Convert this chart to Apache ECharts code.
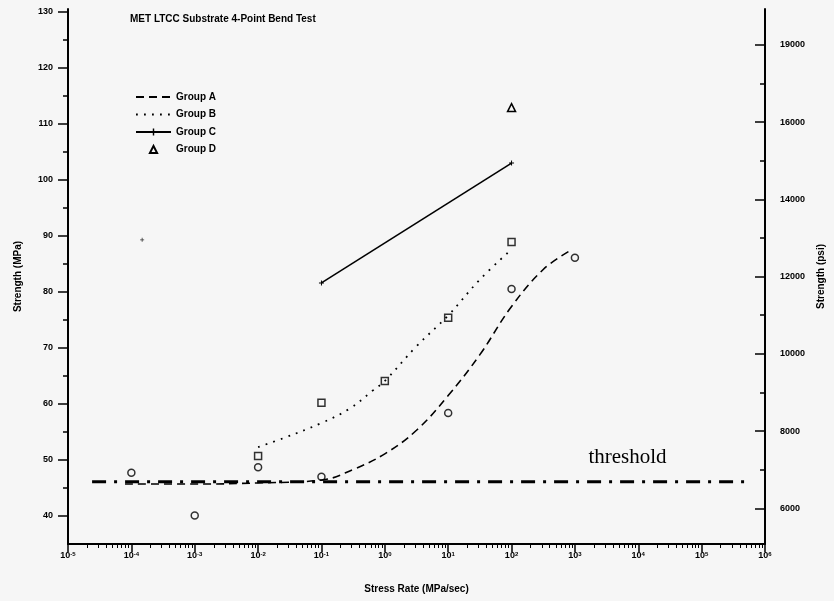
<!DOCTYPE html>
<html>
<head>
<meta charset="utf-8">
<script src="https://cdn.jsdelivr.net/npm/echarts@6/dist/echarts.min.js"></script>
<style>
  * { margin: 0; padding: 0; }
  html, body { background: #f6f6f6; }
  #main { width: 834px; height: 601px; }
</style>
</head>
<body>
<div id="main"></div>
<script>
// stress rate is kept as decade exponent: rate = 10^exp (MPa/sec)
var groupAExp = [-4, -3, -2, -1, 1, 2, 3];
var groupAVal = [47.7, 40.1, 48.7, 47.0, 58.4, 80.5, 86.1];
var groupBExp = [-2, -1, 0, 1, 2];
var groupBVal = [50.7, 60.2, 64.1, 75.4, 88.9];
var groupCExp = [-1, 2];
var groupCVal = [81.6, 103.0];
var strayCExp = [-3.83];
var strayCVal = [89.3];
var groupDExp = [2];
var groupDVal = [112.9];

// fitted curves
var fitAExp = [-4.1, -3, -2, -1, -0.5, 0, 0.5, 1, 1.5, 2, 2.5, 2.9];
var fitAVal = [45.7, 45.7, 45.9, 46.4, 48.3, 51.1, 55.3, 61.5, 68.8, 77.4, 84.0, 87.2];
var fitBExp = [-2, -1.6, -1, -0.55, -0.2, 0, 0.5, 1, 1.5, 2];
var fitBVal = [52.3, 53.9, 56.6, 59.2, 62.3, 64.1, 70.3, 75.8, 82.2, 87.6];
var thresholdExp = [-4.62, 5.72];
var thresholdVal = [46.1, 46.1];

// axis ticks
var xExponents = [-5, -4, -3, -2, -1, 0, 1, 2, 3, 4, 5, 6];
var xMinorMult = [2, 3, 4, 5, 6, 7, 8, 9];
var yTicks = [40, 50, 60, 70, 80, 90, 100, 110, 120, 130];
var yMinorTicks = [45, 55, 65, 75, 85, 95, 105, 115, 125];
var psiTicks = [6000, 8000, 10000, 12000, 14000, 16000, 18000];
var psiLabels = ['6000', '8000', '10000', '12000', '14000', '16000', '19000'];
var psiMinorTicks = [7000, 9000, 11000, 13000, 15000, 17000];

var MPA_TO_PSI = 145.038;
var Y_MIN = 35, Y_MAX = 130.5;

function pts(exps, vals) {
  return exps.map(function (e, i) { return [Math.pow(10, e), vals[i]]; });
}

var xMinorPos = [];
xExponents.slice(0, -1).forEach(function (d) {
  xMinorMult.forEach(function (k) { xMinorPos.push(d + Math.log10(k)); });
});

var ink = '#000';
var bg = '#f6f6f6';
var fontFam = "'Liberation Sans', Arial, sans-serif";
var plusPath = 'path://M2,0h1v2h2v1h-2v2h-1v-2h-2v-1h2z';
var noMark = { color: 'rgba(0,0,0,0)', borderWidth: 0 };

var chart = echarts.init(document.getElementById('main'));
chart.setOption({
  animation: false,
  backgroundColor: bg,
  title: {
    text: 'MET LTCC Substrate 4-Point Bend Test',
    left: 125, top: 9,
    textStyle: { fontFamily: fontFam, fontSize: 10, fontWeight: 'bold', color: ink }
  },
  legend: {
    data: [
      { name: 'Group A', itemStyle: noMark },
      { name: 'Group B', itemStyle: noMark },
      { name: 'Group C' },
      { name: 'Group D' }
    ],
    orient: 'vertical',
    left: 130, top: 87,
    itemWidth: 35, itemHeight: 9, itemGap: 7.5,
    textStyle: { fontFamily: fontFam, fontSize: 10, fontWeight: 'bold', color: ink }
  },
  grid: { left: 68, right: 69, top: 9, bottom: 57, outerBoundsMode: 'none' },
  xAxis: [
    { type: 'log', logBase: 10, min: 1e-5, max: 1e6, position: 'bottom', show: false },
    {
      type: 'value', min: -5, max: 6, interval: 1, position: 'bottom',
      name: 'Stress Rate (MPa/sec)', nameLocation: 'middle', nameGap: 40,
      nameTextStyle: { fontFamily: fontFam, fontSize: 10, fontWeight: 'bold', color: ink },
      splitLine: { show: false },
      axisLine: { onZero: false, lineStyle: { color: ink, width: 2 } },
      axisTick: { length: 8, lineStyle: { color: ink, width: 1.5 } },
      axisLabel: {
        margin: 7, color: ink,
        formatter: function (v) { return '{b|10}{s|' + v + '}'; },
        rich: {
          b: { fontFamily: fontFam, fontSize: 9, fontWeight: 'bold', color: ink },
          s: { fontFamily: fontFam, fontSize: 6, fontWeight: 'bold', color: ink, verticalAlign: 'top' }
        }
      }
    },
    {
      type: 'value', min: -5, max: 6, position: 'bottom',
      splitLine: { show: false },
      axisLine: { show: false, onZero: false },
      axisLabel: { show: false },
      axisTick: { length: 4, customValues: xMinorPos, lineStyle: { color: ink, width: 1 } }
    }
  ],
  yAxis: [
    {
      type: 'value', min: Y_MIN, max: Y_MAX, position: 'left',
      name: 'Strength (MPa)', nameLocation: 'middle', nameGap: 45, nameRotate: 90,
      nameTextStyle: { fontFamily: fontFam, fontSize: 10, fontWeight: 'bold', color: ink },
      splitLine: { show: false },
      axisLine: { show: true, onZero: false, lineStyle: { color: ink, width: 2 } },
      axisTick: { show: true, length: 10, customValues: yTicks, lineStyle: { color: ink, width: 1.5 } },
      axisLabel: { margin: 15, customValues: yTicks, fontFamily: fontFam, fontSize: 9, fontWeight: 'bold', color: ink }
    },
    {
      type: 'value', min: Y_MIN * MPA_TO_PSI, max: Y_MAX * MPA_TO_PSI, position: 'right',
      name: 'Strength (psi)', nameLocation: 'middle', nameGap: 46, nameRotate: 90,
      nameTextStyle: { fontFamily: fontFam, fontSize: 10, fontWeight: 'bold', color: ink },
      splitLine: { show: false },
      axisLine: { show: true, onZero: false, lineStyle: { color: ink, width: 2 } },
      axisTick: { show: true, inside: true, length: 10, customValues: psiTicks, lineStyle: { color: ink, width: 1.5 } },
      axisLabel: {
        margin: 15, customValues: psiTicks, fontFamily: fontFam, fontSize: 9, fontWeight: 'bold', color: ink,
        formatter: function (v) { return psiLabels[psiTicks.indexOf(v)]; }
      }
    },
    {
      type: 'value', min: Y_MIN, max: Y_MAX, position: 'left',
      splitLine: { show: false }, axisLine: { show: false, onZero: false }, axisLabel: { show: false },
      axisTick: { show: true, length: 5, customValues: yMinorTicks, lineStyle: { color: ink, width: 1.5 } }
    },
    {
      type: 'value', min: Y_MIN * MPA_TO_PSI, max: Y_MAX * MPA_TO_PSI, position: 'right',
      splitLine: { show: false }, axisLine: { show: false, onZero: false }, axisLabel: { show: false },
      axisTick: { show: true, inside: true, length: 5, customValues: psiMinorTicks, lineStyle: { color: ink, width: 1.5 } }
    }
  ],
  series: [
    {
      name: 'threshold', type: 'line', data: pts(thresholdExp, thresholdVal),
      symbol: 'none', silent: true,
      lineStyle: { color: ink, width: 3, type: [14, 8, 3, 8] },
      markPoint: {
        symbol: 'circle', symbolSize: 0,
        label: { show: true, formatter: 'threshold', fontFamily: "'Liberation Serif', 'Times New Roman', serif", fontSize: 21, color: ink },
        data: [{ coord: [Math.pow(10, 3.83), 50.4] }]
      }
    },
    {
      name: 'Group A', type: 'line', data: pts(fitAExp, fitAVal), smooth: 0.4,
      symbol: 'none', lineStyle: { color: ink, width: 1.6, type: [8, 5] }, itemStyle: { color: ink }
    },
    {
      name: 'Group B', type: 'line', data: pts(fitBExp, fitBVal), smooth: 0.4,
      symbol: 'none', lineStyle: { color: ink, width: 1.8, type: [1.8, 6.2] }, itemStyle: { color: ink }
    },
    {
      name: 'Group C', type: 'line', data: pts(groupCExp, groupCVal),
      symbol: plusPath, symbolSize: 5,
      lineStyle: { color: ink, width: 1.6 }, itemStyle: { color: ink }
    },
    {
      name: 'Group D', type: 'line', data: pts(groupDExp, groupDVal),
      symbol: 'triangle', symbolSize: 8, showSymbol: true,
      lineStyle: { opacity: 0 },
      itemStyle: { color: bg, borderColor: ink, borderWidth: 1.5 }
    },
    {
      name: 'Group A data', type: 'scatter', data: pts(groupAExp, groupAVal),
      symbol: 'circle', symbolSize: 7,
      itemStyle: { color: bg, borderColor: ink, borderWidth: 1.5 }
    },
    {
      name: 'Group B data', type: 'scatter', data: pts(groupBExp, groupBVal),
      symbol: 'rect', symbolSize: 7,
      itemStyle: { color: bg, borderColor: ink, borderWidth: 1.5 }
    },
    {
      name: 'Group C extra', type: 'scatter', data: pts(strayCExp, strayCVal),
      symbol: plusPath, symbolSize: 4, itemStyle: { color: ink }
    }
  ]
});
</script>
</body>
</html>
